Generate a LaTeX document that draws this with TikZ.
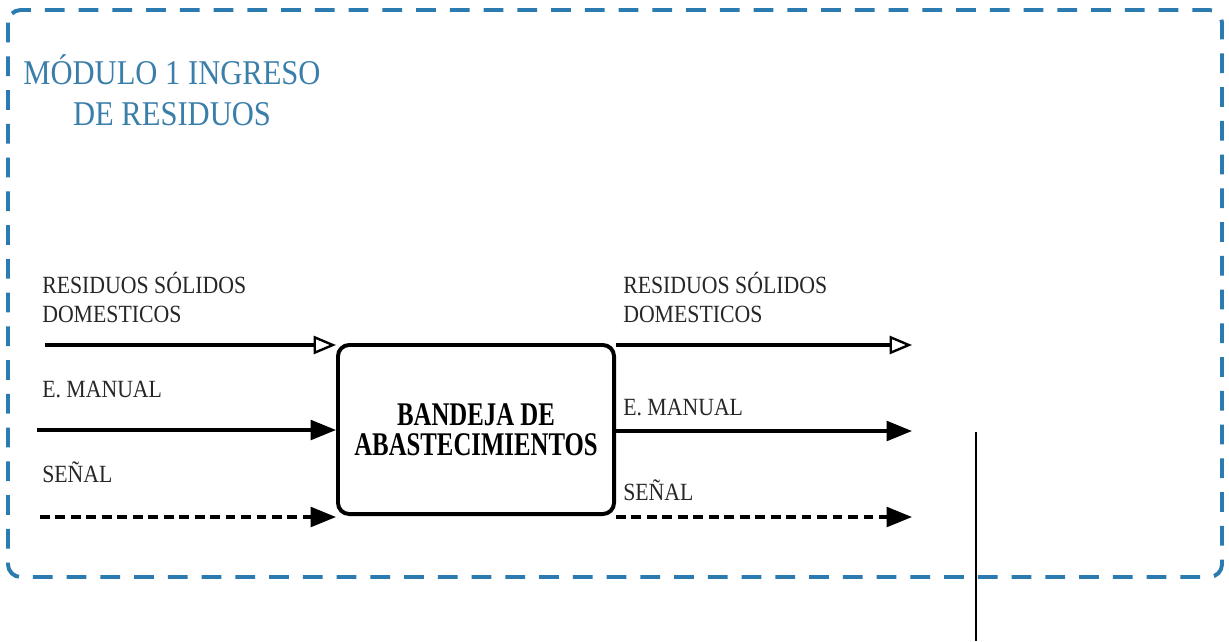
\documentclass[tikz,border=0pt]{standalone}
\usepackage{fontspec}
\setmainfont[FakeStretch=0.88]{Liberation Serif}
\newfontfamily\boxfont[FakeStretch=0.75]{Liberation Serif}
\usetikzlibrary{arrows.meta}
\definecolor{moduleblue}{HTML}{2B7BB0}
\definecolor{titleblue}{HTML}{3A7EAA}
\tikzset{
    flowlabel/.style={anchor=base west, inner sep=0, align=left, text=black!85,
        font=\fontsize{17.6}{20.6}\selectfont},
    matflow/.style={line width=2.3pt, -{Triangle[open, length=16pt, width=13pt, line width=1.7pt]}},
    enerflow/.style={line width=2.3pt, -{Triangle[length=18pt, width=14pt]}},
    sigflow/.style={enerflow, dash pattern=on 7pt off 4pt},
}
\begin{document}
\begin{tikzpicture}[x=0.025cm, y=-0.025cm]
    \useasboundingbox (0,0) rectangle (1229,641);
    %\draw[lightgray] (0,0) grid[step=50] (1229,641);
    \draw[moduleblue, line width=2.8pt, dash pattern=on 14pt off 10pt, rounded corners=9pt]
        (8,10) rectangle (1222,577);
    \node[titleblue, anchor=base, align=center, inner sep=0,
        font=\fontsize{24.7}{28.5}\selectfont] (title) at (172,125) {MÓDULO 1 INGRESO\\DE RESIDUOS};

    \node[draw, line width=2.8pt, rounded corners=8pt, minimum width=6.9cm, minimum height=4.225cm,
        inner sep=0, align=center, font=\boxfont\bfseries\fontsize{23.5}{21}\selectfont]
        (bandeja) at (476,429.5) {BANDEJA DE\\ABASTECIMIENTOS};

    \coordinate (inA) at (45,345);
    \coordinate (inB) at (37,430);
    \coordinate (inC) at (40,517);
    \coordinate (outA) at (912,345);
    \coordinate (outB) at (912,431);
    \coordinate (outC) at (912,517);

    \draw[matflow] (inA) -- (inA -| bandeja.west);
    \draw[enerflow] (inB) -- (inB -| bandeja.west);
    \draw[sigflow] (inC) -- (inC -| bandeja.west);
    \draw[matflow] (bandeja.east |- outA) -- (outA);
    \draw[enerflow] (bandeja.east |- outB) -- (outB);
    \draw[sigflow] (bandeja.east |- outC) -- (outC);

    \node[flowlabel] (inAlbl) at (42,322) {RESIDUOS SÓLIDOS\\DOMESTICOS};
    \node[flowlabel] (inBlbl) at (42,397) {E. MANUAL};
    \node[flowlabel] (inClbl) at (42,482) {SEÑAL};
    \node[flowlabel] (outAlbl) at (623,322) {RESIDUOS SÓLIDOS\\DOMESTICOS};
    \node[flowlabel] (outBlbl) at (623,415) {E. MANUAL};
    \node[flowlabel] (outClbl) at (623,500) {SEÑAL};

    \coordinate (tapT) at (976,432);
    \coordinate (tapB) at (976,641);
    \draw[line width=1.4pt] (tapT) -- (tapB);
\end{tikzpicture}
\end{document}
